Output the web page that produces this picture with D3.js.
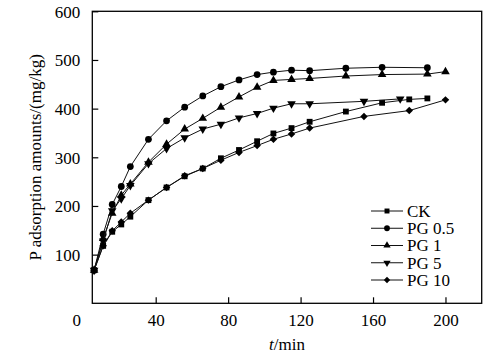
<!DOCTYPE html>
<html><head><meta charset="utf-8">
<script src="https://cdn.jsdelivr.net/npm/d3@7"></script>
<style>body{margin:0;background:#fff}svg{display:block}text{font-family:"Liberation Serif","Times New Roman",Times,serif}</style>
</head><body><svg id="c" width="498" height="357"></svg>
<script>
const tCK   = [6,11,16,21,26,36,46,56,66,76,86,96,105,115,125,145,165,180,190];
const vCK   = [68,118,147,162,178,212,238,261,277,298,315,333,349,360,373,394,412,419,421];
const tPG05 = [6,11,16,21,26,36,46,56,66,76,86,96,105,115,125,145,165,190];
const vPG05 = [68,142,203,240,281,337,375,403,426,445,459,470,475,479,478,483,485,484];
const tPG1  = [6,11,16,21,26,36,46,56,66,76,86,96,105,115,125,145,165,190,200];
const vPG1  = [68,133,185,222,245,290,327,358,380,403,424,444,458,460,462,467,470,471,476];
const tPG5  = [6,11,16,21,26,36,46,56,66,76,86,96,105,115,125,155,175];
const vPG5  = [68,128,190,215,242,287,318,340,358,368,381,390,401,410,410,415,420];
const tPG10 = [6,11,16,21,26,36,46,56,66,76,86,96,105,115,125,155,180,200];
const vPG10 = [68,118,149,167,185,212,238,262,277,294,310,324,337,348,360,384,396,418];
const seriesNames = ["CK","PG 0.5","PG 1","PG 5","PG 10"];
const xTicks = [40,80,120,160,200];
const yTicks = [100,200,300,400,500,600];
const originLabel = "0";
const xTitle = "/min", xTitleItalic = "t";
const yTitle = "P adsorption amounts/(mg/kg)";

const series = [
  {name:seriesNames[0], t:tCK, v:vCK, shape:"square"},
  {name:seriesNames[1], t:tPG05, v:vPG05, shape:"circle"},
  {name:seriesNames[2], t:tPG1, v:vPG1, shape:"up"},
  {name:seriesNames[3], t:tPG5, v:vPG5, shape:"down"},
  {name:seriesNames[4], t:tPG10, v:vPG10, shape:"diamond"}
];

const L=92.3, R=481.7, T=11.3, B=303.3;
const x = d3.scaleLinear().domain([5,220]).range([L,R]);
const y = d3.scaleLinear().domain([0,600]).range([B,T]);
const svg = d3.select("#c");
const FS = 17;

function sym(shape){
  if(shape==="square") return {p:d3.symbol(d3.symbolSquare,34)(), r:0};
  if(shape==="circle") return {p:d3.symbol(d3.symbolCircle,36)(), r:0};
  if(shape==="up") return {p:d3.symbol(d3.symbolTriangle,32)(), r:0};
  if(shape==="down") return {p:d3.symbol(d3.symbolTriangle,32)(), r:180};
  return {p:d3.symbol(d3.symbolSquare,28)(), r:45};
}

const line = d3.line().x(d=>x(d[0])).y(d=>y(d[1]));
series.forEach(s=>{
  const pts = s.t.map((t,i)=>[t,s.v[i]]);
  svg.append("path").attr("d",line(pts)).attr("fill","none").attr("stroke","#111").attr("stroke-width",1);
  const m = sym(s.shape);
  svg.selectAll(null).data(pts).enter().append("path")
    .attr("d",m.p)
    .attr("transform",d=>`translate(${x(d[0])},${y(d[1])}) rotate(${m.r})`)
    .attr("fill","#000");
});

svg.append("rect").attr("x",L).attr("y",T).attr("width",R-L).attr("height",B-T)
  .attr("fill","none").attr("stroke","#000").attr("stroke-width",1.3);

const xa = svg.append("g").attr("transform",`translate(0,${B})`)
  .call(d3.axisBottom(x).tickValues(xTicks).tickSize(-6).tickPadding(16).tickFormat(d3.format("d")));
const ya = svg.append("g").attr("transform",`translate(${L},0)`)
  .call(d3.axisLeft(y).tickValues(yTicks).tickSize(-6).tickPadding(12).tickFormat(d3.format("d")));
[xa,ya].forEach(a=>{
  a.select(".domain").remove();
  a.attr("font-family",null).attr("font-size",null);
  a.selectAll(".tick line").attr("stroke","#000").attr("stroke-width",1.2);
  a.selectAll("text").attr("font-size",FS).attr("fill","#000");
});
ya.selectAll("text").attr("dy","0.34em");
xa.selectAll("text").attr("dy","0").attr("y",23);

svg.append("text").attr("x",81).attr("y",B+23).attr("text-anchor","end")
  .attr("font-size",FS).text(originLabel);

const xt = svg.append("text").attr("x",(L+R)/2 - 0).attr("y",350).attr("text-anchor","middle")
  .attr("font-size",FS);
xt.append("tspan").attr("font-style","italic").text(xTitleItalic);
xt.append("tspan").text(xTitle);

svg.append("text").attr("transform",`translate(41,${(T+B)/2}) rotate(-90)`)
  .attr("text-anchor","middle").attr("font-size",FS).text(yTitle);

const lg = svg.append("g");
series.forEach((s,i)=>{
  const yy = 211 + i*17.25;
  lg.append("line").attr("x1",371).attr("x2",403).attr("y1",yy).attr("y2",yy).attr("stroke","#111").attr("stroke-width",1);
  const m = sym(s.shape);
  lg.append("path").attr("d",m.p).attr("transform",`translate(387,${yy}) rotate(${m.r}) scale(0.85)`).attr("fill","#000");
  lg.append("text").attr("x",407).attr("y",yy).attr("dy","0.34em").attr("font-size",FS).text(s.name);
});
</script></body></html>
